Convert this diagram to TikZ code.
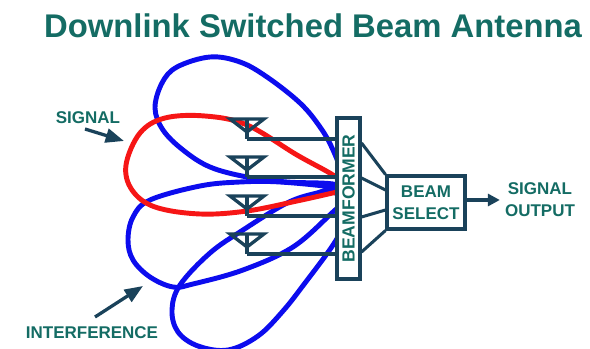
\documentclass[tikz,border=0pt]{standalone}
\usepackage{fontspec}
\usepackage{graphicx}
\setmainfont{Liberation Sans}
\usetikzlibrary{arrows.meta}
\definecolor{tealtxt}{RGB}{20,108,100}
\definecolor{navyline}{RGB}{26,66,90}
\definecolor{lobeblue}{RGB}{12,12,238}
\definecolor{lobered}{RGB}{246,22,22}
% one antenna: bar, V and stem, feed point named #2
\def\antenna(#1)#2{\begin{scope}[shift={(#1)}]
	\draw[ant] (-17,0) -- (17,0) -- (0,13) -- cycle;
	\draw[ant] (0,0) -- (0,20);
	\coordinate (#2) at (0,20);
\end{scope}}

\begin{document}
\begin{tikzpicture}[x=0.03cm,y=-0.03cm,
	lobe/.style={line width=4.2pt,line join=round},
	ant/.style={draw=navyline,line width=2.8pt,line join=miter},
	feed/.style={navyline,line width=2.6pt},
	box/.style={draw=navyline,line width=2.6pt,fill=white,inner sep=0pt},
	lbl/.style={text=tealtxt,font=\fontsize{14.5}{18.7}\selectfont\bfseries,align=center,inner sep=0pt},
	pointer/.style={navyline,line width=2.8pt,-{Triangle[length=0.55cm,width=0.42cm]}}]
	%%%%% START %%%%%
	\useasboundingbox[fill=white] (0,0) rectangle (590,349);
	
	\node[lbl,font=\fontsize{28}{32}\selectfont\bfseries] (title) at (313,26) {Downlink Switched Beam Antenna};
	
	% lobes
	\draw[lobe,lobeblue] plot[smooth,tension=0.6] coordinates {(350,192) (333,184) (287,182) (247,177) (210,167) (183,150) (163,130) (155,108) (162,83) (177,67) (210,57) (240,62) (267,77) (300,103) (320,127) (333,150) (350,192)};
	\draw[lobe,lobeblue] plot[smooth,tension=0.6] coordinates {(350,196) (337,188) (280,182) (240,182) (200,186) (150,200) (133,217) (128,240) (133,260) (150,277) (173,287) (193,284) (243,270) (293,247) (333,212) (350,196)};
	\draw[lobe,lobeblue] plot[smooth,tension=0.6] coordinates {(352,212) (333,191) (317,193) (287,203) (243,230) (210,253) (180,285) (172,310) (178,332) (198,346) (228,350) (258,336) (283,311) (305,283) (333,245) (352,212)};
	\draw[lobe,lobered] plot[smooth,tension=0.6] coordinates {(350,189) (337,192) (297,201) (247,211) (200,214) (155,207) (132,190) (126,165) (140,133) (165,118) (205,116) (247,125) (297,155) (333,175) (350,189)};
	
	% antennas
	\antenna(247,119){a1}
	\antenna(247,157){a2}
	\antenna(247,196){a3}
	\antenna(247,234){a4}
	
	\node[box,minimum width=0.69cm,minimum height=4.83cm] (bf) at (348.5,198.5) {\rotatebox{90}{\color{tealtxt}\fontsize{15}{18}\selectfont\bfseries BEAMFORMER}};
	\node[box,lbl,minimum width=2.34cm,minimum height=1.59cm] (sel) at (426,202.5) {BEAM\\SELECT};
	\node[lbl] (out) at (540,200) {SIGNAL\\OUTPUT};
	
	\draw[feed] (a1) -- (a1 -| bf.west);
	\draw[feed] (a2) -- (a2 -| bf.west);
	\draw[feed] (a3) -- (a3 -| bf.west);
	\draw[feed] (a4) -- (a4 -| bf.west);
	
	\draw[feed] (bf.east |- 0,143) -- (sel.north west);
	\draw[feed] (bf.east |- 0,178) -- (sel.west |- 0,190);
	\draw[feed] (bf.east |- 0,217) -- (sel.west |- 0,210);
	\draw[feed] (bf.east |- 0,252) -- (sel.south west);
	
	\draw[navyline,line width=2.6pt,-{Triangle[length=0.36cm,width=0.36cm]},shorten >=0.15cm] (sel.east |- out.west) -- (out.west);
	
	% labels
	\node[lbl] (signal) at (88,118) {SIGNAL};
	\node[lbl] (interference) at (92,333) {INTERFERENCE};
	\coordinate (sigtail) at (85,129);
	\coordinate (sighead) at (124,141);
	\coordinate (inftail) at (95,317);
	\coordinate (infhead) at (143,286);
	\draw[pointer] (sigtail) -- (sighead);
	\draw[pointer] (inftail) -- (infhead);
	%%%%% END %%%%%
\end{tikzpicture}
\end{document}
